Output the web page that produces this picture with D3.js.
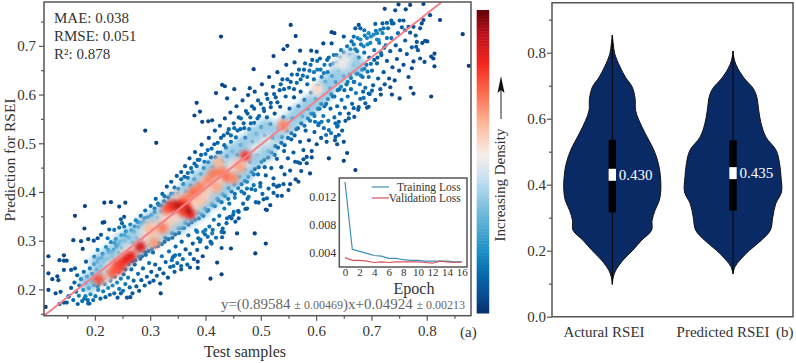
<!DOCTYPE html>
<html>
<head>
<meta charset="utf-8">
<script src="https://cdn.jsdelivr.net/npm/d3@7"></script>
<style>
  html, body { margin: 0; padding: 0; background: #fff; }
  text { font-family: "Liberation Serif", serif; fill: #333; }
</style>
</head>
<body>
<div id="chart"></div>
<script>
// scattered samples, [test, prediction]
var outlierPoints = [
  [.428,.719],[.43,.62],[.435,.617],[.419,.603],[.452,.611],[.439,.592],[.48,.613],[.384,.583],[.39,.565],[.38,.557],
  [.291,.526],[.311,.501],[.394,.544],[.405,.545],[.412,.547],[.182,.371],[.164,.351],[.217,.378],[.229,.379],[.255,.378],
  [.244,.37],[.214,.337],[.217,.338],[.247,.344],[.253,.349],[.249,.336],[.253,.329],[.244,.327],[.181,.325],[.211,.312],
  [.226,.323],[.235,.322],[.223,.305],[.161,.301],[.175,.299],[.188,.303],[.198,.3],[.205,.305],[.178,.283],[.205,.281],
  [.116,.268],[.144,.27],[.136,.26],[.144,.259],[.149,.259],[.184,.257],[.199,.267],[.116,.233],[.144,.24],[.157,.24],
  [.132,.227],[.123,.221],[.134,.219],[.164,.243],[.116,.199],[.138,.195],[.129,.192],[.152,.185],[.136,.17],[.144,.173],
  [.149,.173],[.169,.17],[.19,.171],[.187,.178],[.181,.181],[.111,.164],[.264,.184],[.319,.192],[.247,.192],[.409,.222],
  [.429,.231],[.421,.255],[.386,.257],[.386,.244],[.372,.245],[.356,.241],[.356,.248],[.342,.248],[.339,.26],[.343,.268],
  [.345,.27],[.49,.274],[.509,.294],[.429,.285],[.446,.284],[.457,.315],[.489,.315],[.43,.307],[.433,.317],[.431,.325],
  [.424,.333],[.411,.294],[.409,.298],[.39,.298],[.387,.305],[.404,.308],[.412,.315],[.413,.322],[.4,.322],[.396,.318],
  [.385,.318],[.454,.339],[.46,.346],[.46,.359],[.451,.359],[.439,.346],[.444,.349],[.45,.353],[.475,.366],[.472,.365],
  [.496,.378],[.505,.385],[.511,.387],[.517,.373],[.511,.363],[.509,.364],[.523,.398],[.53,.392],[.538,.392],[.55,.404],
  [.529,.411],[.523,.415],[.541,.416],[.553,.416],[.568,.421],[.49,.404],[.499,.411],[.487,.414],[.475,.407],[.478,.39],
  [.47,.397],[.865,.724],[.876,.659],[.824,.753],[.806,.763],[.814,.684],[.808,.678],[.812,.674],[.814,.658],[.808,.596],
  [.776,.602],[.771,.614],[.797,.71],[.801,.709],[.782,.708],[.781,.698],[.788,.674],[.796,.667],[.773,.654],[.751,.592],
  [.737,.6],[.734,.615],[.717,.6],[.701,.608],[.695,.602],[.686,.593],[.689,.582],[.695,.575],[.668,.572],[.677,.574],
  [.724,.776],[.743,.773],[.762,.775],[.77,.784],[.749,.785],[.794,.786],[.707,.745],[.72,.746],[.728,.747],[.736,.752],
  [.737,.746],[.751,.752],[.758,.752],[.791,.746],[.794,.753],[.776,.739],[.767,.739],[.761,.732],[.554,.743],[.563,.72],
  [.487,.652],[.523,.679],[.541,.693],[.548,.7],[.571,.69],[.591,.69],[.601,.688],[.628,.728],[.633,.726],[.613,.705],
  [.628,.705],[.65,.719],[.668,.719],[.671,.736],[.677,.743],[.68,.736],[.687,.732],[.695,.726],[.71,.726],[.713,.712],
  [.671,.445],[.656,.48],[.65,.464],[.623,.469],[.583,.472],[.592,.471],[.577,.467],[.589,.438],[.571,.459],[.562,.462],
  [.65,.503],[.635,.513],[.641,.517],[.623,.527],[.618,.517],[.638,.498],[.604,.537],[.598,.544],[.61,.544],[.659,.551],
  [.641,.544],[.635,.541],[.638,.534]
];

// the denser flanks of the cloud, estimated by eye from low to high test value
var flankPoints = [
  [.153,.186],[.157,.203],[.161,.178],[.163,.214],[.166,.195],[.168,.229],[.171,.187],[.172,.208],[.175,.221],[.177,.176],[.179,.199],[.18,.236],[.183,.186],[.184,.213],[.186,.226],[.188,.171],[.189,.203],[.191,.243],[.192,.19],[.194,.218],[.195,.232],[.197,.178],[.198,.209],[.199,.252],
  [.201,.186],[.202,.224],[.204,.241],[.206,.199],[.207,.262],[.208,.213],[.21,.181],[.211,.248],[.212,.232],[.214,.273],[.215,.196],[.216,.256],[.218,.211],[.219,.184],[.22,.287],[.222,.238],[.223,.262],[.224,.203],[.226,.276],[.227,.189],[.228,.218],[.229,.297],[.231,.268],[.232,.208],[.234,.281],[.235,.192],[.236,.226],[.238,.303],[.239,.288],[.24,.214],[.241,.183],[.243,.274],[.244,.201],[.245,.296],[.247,.222],[.248,.311],[.249,.286],
  [.251,.197],[.252,.231],[.254,.299],[.255,.211],[.256,.319],[.258,.183],[.259,.287],[.26,.224],[.262,.306],[.263,.204],[.264,.333],[.266,.241],[.267,.296],[.268,.192],[.27,.218],[.271,.318],[.272,.251],[.274,.342],[.275,.206],[.276,.306],[.278,.232],[.279,.328],[.28,.197],[.282,.263],[.283,.351],[.284,.219],[.286,.313],[.287,.243],[.288,.338],[.29,.208],[.291,.362],[.292,.271],[.294,.226],[.295,.321],[.296,.348],[.298,.254],[.299,.214],
  [.301,.371],[.302,.236],[.304,.339],[.305,.276],[.306,.218],[.308,.358],[.309,.251],[.31,.386],[.312,.228],[.313,.347],[.314,.289],[.316,.373],[.317,.242],[.318,.212],[.32,.359],[.321,.268],[.322,.396],[.324,.233],[.325,.381],[.326,.298],[.328,.256],[.329,.366],[.33,.411],[.332,.224],[.333,.389],[.334,.278],[.336,.246],[.337,.373],[.338,.421],[.34,.306],[.341,.266],[.342,.396],[.344,.236],[.345,.381],[.346,.288],[.348,.433],[.349,.254],
  [.351,.406],[.352,.316],[.353,.271],[.355,.389],[.356,.441],[.357,.298],[.359,.262],[.36,.416],[.361,.326],[.363,.453],[.364,.282],[.365,.401],[.367,.251],[.368,.429],[.369,.311],[.371,.469],[.372,.273],[.373,.413],[.375,.338],[.376,.441],[.377,.294],[.379,.262],[.38,.426],[.381,.482],[.383,.321],[.384,.453],[.385,.281],[.387,.418],[.388,.346],[.389,.466],[.391,.302],[.392,.436],[.393,.497],[.395,.268],[.396,.351],[.397,.449],[.399,.313],[.4,.478],
  [.401,.423],[.402,.286],[.403,.361],[.405,.461],[.406,.511],[.407,.329],[.409,.436],[.41,.296],[.411,.489],[.413,.373],[.414,.451],[.415,.343],[.417,.526],[.418,.471],[.419,.306],[.421,.386],[.422,.501],[.423,.443],[.425,.351],[.426,.536],[.427,.481],[.429,.318],[.43,.463],[.431,.396],[.433,.516],[.434,.366],[.435,.551],[.437,.491],[.438,.336],[.439,.473],[.441,.408],[.442,.529],[.443,.376],[.445,.563],[.446,.503],[.447,.346],[.449,.483],
  [.451,.541],[.452,.416],[.453,.388],[.455,.512],[.456,.576],[.457,.476],[.459,.361],[.46,.553],[.461,.431],[.463,.529],[.464,.496],[.465,.401],[.467,.588],[.468,.376],[.469,.541],[.471,.446],[.472,.511],[.473,.566],[.475,.421],[.476,.386],[.477,.599],[.479,.529],[.48,.461],[.481,.553],[.483,.406],[.484,.576],[.485,.503],[.487,.436],[.488,.542],[.489,.606],[.491,.379],[.492,.519],[.493,.476],[.495,.588],[.496,.451],[.497,.556],[.499,.418],
  [.501,.533],[.502,.621],[.503,.396],[.505,.571],[.506,.466],[.507,.516],[.509,.434],[.51,.601],[.511,.553],[.513,.484],[.514,.407],[.515,.636],[.517,.539],[.518,.583],[.519,.449],[.521,.511],[.522,.616],[.523,.428],[.525,.561],[.526,.494],[.527,.594],[.529,.468],[.53,.646],[.531,.531],[.533,.413],[.534,.609],[.535,.575],[.537,.451],[.538,.513],[.539,.631],[.541,.553],[.542,.484],[.543,.436],[.545,.596],[.546,.661],[.547,.526],[.549,.469],
  [.551,.614],[.552,.571],[.553,.444],[.555,.508],[.556,.641],[.557,.551],[.559,.481],[.56,.594],[.561,.666],[.563,.426],[.564,.529],[.565,.624],[.567,.461],[.568,.576],[.569,.651],[.571,.503],[.572,.606],[.573,.443],[.575,.556],[.576,.639],[.577,.486],[.579,.589],[.58,.664],[.581,.526],[.583,.459],[.584,.621],[.585,.571],[.587,.506],[.588,.649],[.589,.546],[.591,.604],[.592,.484],[.593,.671],[.595,.561],[.596,.631],[.597,.523],[.599,.591],
  [.601,.498],[.602,.651],[.603,.618],[.605,.541],[.606,.571],[.607,.674],[.609,.511],[.61,.636],[.611,.601],[.613,.556],[.614,.531],[.615,.661],[.617,.626],[.618,.581],[.619,.503],[.621,.646],[.622,.546],[.623,.676],[.625,.613],[.626,.571],[.627,.521],[.629,.638],[.63,.596],[.631,.664],[.633,.553],[.634,.506],[.635,.626],[.637,.681],[.638,.576],[.639,.536],[.641,.649],[.642,.611],[.643,.561],[.645,.691],[.646,.589],[.647,.526],[.649,.639],
  [.651,.668],[.652,.573],[.653,.546],[.655,.621],[.656,.699],[.657,.596],[.659,.561],[.66,.681],[.661,.641],[.663,.611],[.664,.709],[.665,.581],[.667,.661],[.668,.626],[.669,.554],[.671,.693],[.672,.603],[.673,.643],[.675,.716],[.676,.569],[.677,.676],[.679,.621],[.68,.591],[.681,.703],[.683,.651],[.684,.636],[.685,.606],[.687,.686],[.688,.721],[.689,.614],[.691,.661],[.692,.573],[.693,.703],[.695,.636],[.696,.676],[.697,.601],[.699,.719],
  [.701,.649],[.703,.619],[.705,.691],[.707,.589],[.708,.731],[.71,.664],[.712,.633],[.714,.706],[.716,.611],[.718,.681],[.72,.726],[.722,.646],[.724,.621],[.726,.701],[.728,.669],[.73,.736],[.732,.633],[.734,.689],[.736,.716],[.738,.656],[.74,.746],[.742,.629],[.744,.701],[.746,.673],[.748,.726],[.75,.649],[.752,.691],[.755,.738],[.758,.661],[.761,.711],[.764,.683],[.767,.636],[.77,.727],[.773,.697],[.776,.668],[.78,.721],[.784,.691],[.788,.736],[.792,.706]
];

// closer in to the fit line, below it and then above it
var lowerPoints = [
  [.205,.206],[.213,.219],[.219,.224],[.225,.231],[.231,.226],[.237,.238],[.243,.236],[.249,.244],[.255,.241],[.261,.252],[.267,.258],[.273,.26],[.279,.268],[.285,.268],[.291,.276],[.297,.279],[.303,.283],[.309,.288],[.315,.296],[.321,.293],[.327,.306],[.333,.303],[.339,.316],[.345,.313],[.351,.326],[.357,.326],[.363,.337],[.369,.333],[.375,.348],[.381,.343],[.387,.358],[.393,.354],[.399,.366],[.405,.363],[.411,.376],[.417,.371],[.423,.383],[.429,.379],[.435,.392],[.441,.386],[.447,.401],[.453,.396],[.459,.408],[.465,.416],[.471,.423],[.477,.431],[.483,.441],[.489,.447],[.495,.436],[.501,.462],[.507,.451],[.513,.471],[.519,.481],[.525,.476],[.531,.491],[.537,.501],[.543,.496],[.549,.511],[.555,.521],[.561,.516],[.567,.531],[.573,.541],[.579,.536],[.585,.551],[.591,.561],[.597,.556],[.603,.571],[.609,.581],[.615,.576],[.621,.591],[.627,.601],[.633,.596],[.639,.609],[.645,.616],[.651,.609],[.657,.626],[.663,.634],[.669,.626],[.675,.643],[.681,.639],[.687,.653],[.693,.647],[.699,.663],[.705,.671],[.711,.676],[.717,.686],[.723,.696]
];
var upperPoints = [
  [.205,.257],[.212,.264],[.218,.259],[.224,.281],[.23,.276],[.236,.295],[.242,.291],[.248,.298],[.254,.311],[.26,.307],[.266,.321],[.272,.329],[.278,.338],[.284,.336],[.29,.346],[.296,.336],[.302,.352],[.308,.366],[.314,.376],[.32,.372],[.326,.391],[.332,.376],[.338,.396],[.344,.409],[.35,.396],[.356,.426],[.362,.431],[.368,.439],[.374,.449],[.38,.458],[.386,.466],[.392,.476],[.398,.462],[.404,.486],[.41,.471],[.416,.498],[.422,.481],[.428,.511],[.434,.496],[.44,.521],[.446,.516],[.452,.531],[.458,.526],[.464,.551],[.47,.531],[.476,.561],[.482,.541],[.488,.571],[.494,.551],[.5,.581],[.506,.566],[.512,.591],[.518,.574],[.524,.601],[.53,.584],[.536,.621],[.542,.611],[.548,.631],[.554,.626],[.56,.611],[.566,.641],[.572,.631],[.578,.651],[.584,.636],[.59,.661],[.596,.646],[.602,.669],[.608,.651],[.614,.644],[.62,.671],[.626,.661],[.632,.681],[.638,.666],[.644,.676],[.65,.686],[.656,.676],[.662,.693],[.668,.703],[.674,.689],[.68,.713],[.686,.699],[.692,.716],[.698,.706],[.704,.723],[.71,.713],[.716,.733],[.722,.736],[.728,.716]
];

// pale haze and hot spots of the density cloud, [test, prediction, density]
var hazeOuter = [[.19,.215],[.21,.23],[.21,.255],[.23,.25],[.23,.27],[.25,.26],[.25,.295],[.27,.28],[.27,.31],[.29,.295],[.29,.33],[.31,.31],[.31,.345],[.33,.325],[.33,.365],[.35,.335],[.35,.385],[.37,.35],[.37,.405],[.39,.365],[.39,.425],[.41,.385],[.41,.445],[.43,.405],[.43,.46],[.45,.425],[.45,.48],[.47,.44],[.47,.495],[.49,.47],[.49,.515],[.51,.485],[.51,.53],[.53,.52],[.55,.54],[.57,.56],[.59,.58],[.61,.6],[.62,.62],[.64,.64],[.65,.655],[.66,.67],[.67,.66]];
var hazeInner = [[.23,.245],[.26,.28],[.29,.315],[.31,.325],[.33,.35],[.35,.355],[.37,.38],[.39,.4],[.4,.42],[.43,.43],[.45,.455],[.47,.46],[.49,.49],[.51,.505],[.54,.535],[.6,.61],[.64,.665],[.65,.66],[.655,.675]];
var warmSpots = [[.22,.225],[.235,.245],[.25,.265],[.27,.28],[.29,.3],[.31,.31],[.33,.33],[.345,.345],[.36,.37],[.375,.385],[.39,.395],[.405,.405],[.42,.42],[.44,.44],[.38,.37],[.4,.39],[.35,.39],[.3,.33],[.325,.345]];
var hotSpots = [
  [.39,.383,.6],[.301,.322,.62],[.42,.41,.64],[.4235,.461,.62],[.463,.451,.66],[.459,.455,.64],[.6025,.611,.56],[.541,.537,.7],
  [.307,.295,.66],[.322,.326,.7],[.378,.4,.72],[.39,.41,.7],[.365,.385,.7],[.4145,.438,.7],[.405,.425,.68],[.439,.431,.74],[.43,.44,.7],[.45,.428,.68],
  [.2065,.2205,.76],[.232,.235,.74],[.244,.243,.78],[.24,.25,.76],[.25,.255,.8],[.259,.2637,.84],[.265,.268,.84],[.282,.2875,.86],[.472,.474,.8],
  [.33,.365,.74],[.339,.373,.82],[.355,.375,.82],[.342,.368,.8],[.365,.368,.84],[.372,.355,.82],[.36,.36,.78],[.348,.373,.94],[.369,.3615,.94]
];

var fitX = [.108,.827];
var fitY = [.146,.79];

var xTicks = [.2,.3,.4,.5,.6,.7,.8];
var xMinor = [.15,.25,.35,.45,.55,.65,.75,.85];
var yTicks = [.2,.3,.4,.5,.6,.7];
var yMinor = [.15,.25,.35,.45,.55,.65,.75];

// density colour ramp
var rampStops = [0,.05,.12,.2,.33,.45,.52,.62,.72,.82,.92,1];
var rampColors = ["#08306b","#0a4a8f","#0868ac","#1a8ec6","#72bbdd","#cfe4f2","#f7ede8","#fdb899","#fb6f4f","#f5261f","#b80f18","#5c0008"];

// loss inset
var epochs = [0,1,2,3,4,5,6,7,8,9,10,11,12,13,14,15,16];
var trainingLoss = [.0141,.0045,.0042,.0039,.0036,.0035,.0032,.0032,.003,.0029,.0029,.0028,.0028,.0028,.0028,.0027,.0027];
var validationLoss = [.0033,.0029,.0029,.0028,.0026,.0027,.0026,.0027,.0027,.0027,.0027,.0026,.0025,.0028,.0027,.0026,.0027];

// violins
var violinNames = ["Actural RSEI","Predicted RSEI"];
var violinMedians = [.43,.435];
var violinQ1 = [.316,.322];
var violinQ3 = [.536,.534];
var violinLevelsA = [.853,.827,.797,.757,.726,.696,.661,.625,.595,.555,.504,.464,.428,.383,.353,.322,.292,.262,.231,.201,.171,.14,.12,.098];
var violinWidthsA = [0,.02,.05,.16,.27,.41,.47,.48,.55,.68,.86,.95,.99,1,.97,.88,.82,.81,.6,.42,.22,.07,.02,0];
var violinLevelsB = [.805,.777,.752,.721,.691,.666,.625,.585,.544,.504,.464,.423,.378,.342,.302,.262,.231,.201,.171,.151,.13];
var violinWidthsB = [0,.03,.1,.24,.42,.49,.53,.58,.68,.89,.96,.99,1,.88,.82,.77,.58,.34,.14,.04,0];

var width = 796, height = 363;
var frame = "#555";

var svg = d3.select("#chart").append("svg")
  .attr("width", width)
  .attr("height", height)
  .style("display", "block");

var defs = svg.append("defs");
defs.append("clipPath").attr("id", "plotClip").append("rect")
  .attr("x", 44).attr("y", 2).attr("width", 427).attr("height", 314);
defs.append("filter").attr("id", "blurWide").append("feGaussianBlur").attr("stdDeviation", 3);
defs.append("filter").attr("id", "blurHot").append("feGaussianBlur").attr("stdDeviation", 2.2);

var color = d3.scaleLinear().domain(rampStops).range(rampColors).clamp(true);

// ---- panel a
var x = d3.scaleLinear().domain([.108,.88]).range([44,471]);
var y = d3.scaleLinear().domain([.146,.79]).range([315.7,2]);

var points = outlierPoints.concat(flankPoints, lowerPoints, upperPoints);

// colour each dot by how many neighbours it has, so the rim comes out navy
var dots = points.map(function (p) {
  var n = 0;
  points.forEach(function (q) {
    var dx = p[0] - q[0], dy = p[1] - q[1];
    if (dx * dx + dy * dy < .0009) n++;
  });
  return { x: p[0], y: p[1], n: n };
}).sort(function (a, b) { return a.n - b.n; });

var neighbourToDensity = d3.scaleLinear().domain([1,8,15,24]).range([.03,.055,.1,.19]).clamp(true);

var plot = svg.append("g").attr("clip-path", "url(#plotClip)");

plot.append("g").selectAll("circle")
  .data(dots)
  .enter().append("circle")
  .attr("cx", function (d) { return x(d.x); })
  .attr("cy", function (d) { return y(d.y); })
  .attr("r", 2.1)
  .attr("fill", function (d) { return color(neighbourToDensity(d.n)); });

function blobs(data, blur, opacity, radius, fill) {
  plot.append("g").attr("filter", "url(#" + blur + ")").attr("opacity", opacity).selectAll("circle")
    .data(data)
    .enter().append("circle")
    .attr("cx", function (d) { return x(d[0]); })
    .attr("cy", function (d) { return y(d[1]); })
    .attr("r", radius)
    .attr("fill", fill);
}

blobs(hazeOuter, "blurWide", .5, 10, color(.24));
blobs(hazeOuter, "blurWide", .9, 6.5, color(.38));
blobs(hazeInner, "blurWide", 1, 6, color(.5));
blobs(warmSpots, "blurWide", .9, 6, color(.58));
blobs(hotSpots, "blurHot", 1, function (d) { return d[2] > .9 ? 3.5 : 5.5; }, function (d) { return color(d[2]); });

plot.append("path")
  .datum(fitX.map(function (v, i) { return [v, fitY[i]]; }))
  .attr("d", d3.line().x(function (d) { return x(d[0]); }).y(function (d) { return y(d[1]); }))
  .attr("fill", "none")
  .attr("stroke", "#f4808a")
  .attr("stroke-width", 2);

function styleAxis(g, size) {
  g.selectAll(".domain").remove();
  g.selectAll("line").attr("stroke", frame).attr("stroke-width", 1.2);
  g.selectAll("text").style("font-size", size + "px").style("fill", "#333");
}

svg.append("g").attr("transform", "translate(0,315.7)")
  .call(d3.axisBottom(x).tickValues(xTicks).tickSize(5).tickPadding(5).tickFormat(d3.format(".1f")))
  .call(styleAxis, 15);
svg.append("g").attr("transform", "translate(0,315.7)")
  .call(d3.axisBottom(x).tickValues(xMinor).tickSize(3).tickFormat(""))
  .call(styleAxis, 15);
svg.append("g").attr("transform", "translate(44,0)")
  .call(d3.axisLeft(y).tickValues(yTicks).tickSize(5).tickPadding(3).tickFormat(d3.format(".1f")))
  .call(styleAxis, 15);
svg.append("g").attr("transform", "translate(44,0)")
  .call(d3.axisLeft(y).tickValues(yMinor).tickSize(3).tickFormat(""))
  .call(styleAxis, 15);

svg.append("rect")
  .attr("x", 44).attr("y", 2).attr("width", 427).attr("height", 313.7)
  .attr("fill", "none").attr("stroke", frame).attr("stroke-width", 1.5);

[["MAE: 0.038", 23], ["RMSE: 0.051", 41], ["R²: 0.878", 59]].forEach(function (t) {
  svg.append("text").attr("x", 54).attr("y", t[1]).style("font-size", "15px").text(t[0]);
});

svg.append("text")
  .attr("transform", "translate(15,160) rotate(-90)")
  .attr("text-anchor", "middle").style("font-size", "15.5px").text("Prediction for RSEI");
svg.append("text").attr("x", 245).attr("y", 357)
  .attr("text-anchor", "middle").style("font-size", "16px").text("Test samples");
svg.append("text").attr("x", 460).attr("y", 337).style("font-size", "15px").text("(a)");

var eq = svg.append("text").attr("x", 465).attr("y", 309).attr("text-anchor", "end")
  .style("font-size", "15px").style("fill", "#666");
[["y=(0.89584 ", 15], ["± 0.00469", 12], [")x+0.04924 ", 15], ["± 0.00213", 12]].forEach(function (t) {
  eq.append("tspan").style("font-size", t[1] + "px").style("fill", "#666").text(t[0]);
});

// ---- inset
var ix = d3.scaleLinear().domain([0,16]).range([345,461.7]);
var iy = d3.scaleLinear().domain([.00196,.01467]).range([267,178]);

svg.append("rect")
  .attr("x", 339.3).attr("y", 178).attr("width", 127.7).attr("height", 89)
  .attr("fill", "#fff").attr("stroke", frame).attr("stroke-width", 1.5);

var lossLine = d3.line().x(function (d) { return ix(d[0]); }).y(function (d) { return iy(d[1]); });
svg.append("path")
  .datum(epochs.map(function (e, i) { return [e, trainingLoss[i]]; }))
  .attr("d", lossLine).attr("fill", "none").attr("stroke", "#3d8fb5").attr("stroke-width", 1.2);
svg.append("path")
  .datum(epochs.map(function (e, i) { return [e, validationLoss[i]]; }))
  .attr("d", lossLine).attr("fill", "none").attr("stroke", "#d9535f").attr("stroke-width", 1.2);

svg.append("g").attr("transform", "translate(0,267)")
  .call(d3.axisBottom(ix).tickValues(epochs.filter(function (e) { return e % 2 === 0; })).tickSize(0).tickPadding(1))
  .call(styleAxis, 11);
svg.append("g").attr("transform", "translate(339.3,0)")
  .call(d3.axisLeft(iy).tickValues([.004,.008,.012]).tickSize(0).tickPadding(3).tickFormat(d3.format(".3f")))
  .call(styleAxis, 12);

[["Training Loss", 187, "#3d8fb5"], ["Validation Loss", 198, "#d9535f"]].forEach(function (t) {
  svg.append("line").attr("x1", 371.7).attr("x2", 389).attr("y1", t[1]).attr("y2", t[1])
    .attr("stroke", t[2]).attr("stroke-width", 1.2);
  svg.append("text").attr("x", 460.7).attr("y", t[1] + 3.5).attr("text-anchor", "end")
    .style("font-size", "11.5px").text(t[0]);
});
svg.append("text").attr("x", 414).attr("y", 294).attr("text-anchor", "middle")
  .style("font-size", "16px").text("Epoch");

// ---- colour bar
var cb = d3.scaleLinear().domain([0,1]).range([313,10]);
svg.append("g").selectAll("rect")
  .data(d3.range(0, 1, .01))
  .enter().append("rect")
  .attr("x", 476.7)
  .attr("y", function (d) { return cb(d + .01); })
  .attr("width", 12.5)
  .attr("height", function (d) { return cb(d) - cb(d + .01) + .5; })
  .attr("fill", function (d) { return color(d); });

svg.append("text").attr("transform", "translate(505,185) rotate(-90)")
  .attr("text-anchor", "middle").style("font-size", "15px").text("Increasing Density");
svg.append("line").attr("x1", 501).attr("x2", 501).attr("y1", 119).attr("y2", 84)
  .attr("stroke", "#222").attr("stroke-width", 1);
svg.append("path").attr("d", "M501,76 L504.5,93 L501,90 L497.5,93 Z").attr("fill", "#111");

// ---- panel b
var vy = d3.scaleLinear().domain([0,.9515]).range([316.7,2.7]);
var vw = d3.scaleLinear().domain([0,1]).range([0,48.5]);

var violins = [
  { name: violinNames[0], levels: violinLevelsA, widths: violinWidthsA, median: violinMedians[0], q1: violinQ1[0], q3: violinQ3[0] },
  { name: violinNames[1], levels: violinLevelsB, widths: violinWidthsB, median: violinMedians[1], q1: violinQ1[1], q3: violinQ3[1] }
];
var vx = d3.scalePoint().domain(violinNames).range([612.3,733]);

var shape = d3.area()
  .curve(d3.curveCatmullRom.alpha(.5))
  .y(function (d) { return vy(d[0]); })
  .x0(function (d) { return -vw(d[1]); })
  .x1(function (d) { return vw(d[1]); });

var vg = svg.selectAll(".violin")
  .data(violins)
  .enter().append("g")
  .attr("class", "violin")
  .attr("transform", function (d) { return "translate(" + vx(d.name) + ",0)"; });

vg.append("path")
  .attr("d", function (d) { return shape(d.levels.map(function (l, i) { return [l, d.widths[i]]; })); })
  .attr("fill", "#0a2a66")
  .attr("stroke", "#111")
  .attr("stroke-width", 1);

vg.append("line")
  .attr("y1", function (d) { return vy(d.levels[0]); })
  .attr("y2", function (d) { return vy(d.levels[d.levels.length - 1]); })
  .attr("stroke", "#000").attr("stroke-width", 1);

vg.append("rect")
  .attr("x", -3.7).attr("width", 7.4)
  .attr("y", function (d) { return vy(d.q3); })
  .attr("height", function (d) { return vy(d.q1) - vy(d.q3); })
  .attr("fill", "#000");

vg.append("rect")
  .attr("x", -3.7).attr("width", 7.4)
  .attr("y", function (d) { return vy(d.median) - 6; })
  .attr("height", 12)
  .attr("fill", "#fff");

vg.append("text")
  .attr("x", 6.5)
  .attr("y", function (d) { return vy(d.median) + 5; })
  .style("font-size", "15px").style("fill", "#fff")
  .text(function (d) { return d3.format(".3f")(d.median); });

svg.append("g").attr("transform", "translate(552,0)")
  .call(d3.axisLeft(vy).tickValues([0,.2,.4,.6,.8]).tickSize(5).tickPadding(1).tickFormat(d3.format(".1f")))
  .call(styleAxis, 15);
svg.append("g").attr("transform", "translate(552,0)")
  .call(d3.axisLeft(vy).tickValues([.1,.3,.5,.7,.9]).tickSize(3).tickFormat(""))
  .call(styleAxis, 15);

svg.append("path")
  .attr("d", "M552,2.7 H793 V316.7 H552 Z")
  .attr("fill", "none").attr("stroke", frame).attr("stroke-width", 1.5);

svg.append("text").attr("x", 604).attr("y", 337).attr("text-anchor", "middle")
  .style("font-size", "15px").text(violinNames[0]);
svg.append("text").attr("x", 723).attr("y", 337).attr("text-anchor", "middle")
  .style("font-size", "15px").text(violinNames[1]);
svg.append("text").attr("x", 776).attr("y", 337).style("font-size", "15px").text("(b)");
</script>
</body>
</html>
